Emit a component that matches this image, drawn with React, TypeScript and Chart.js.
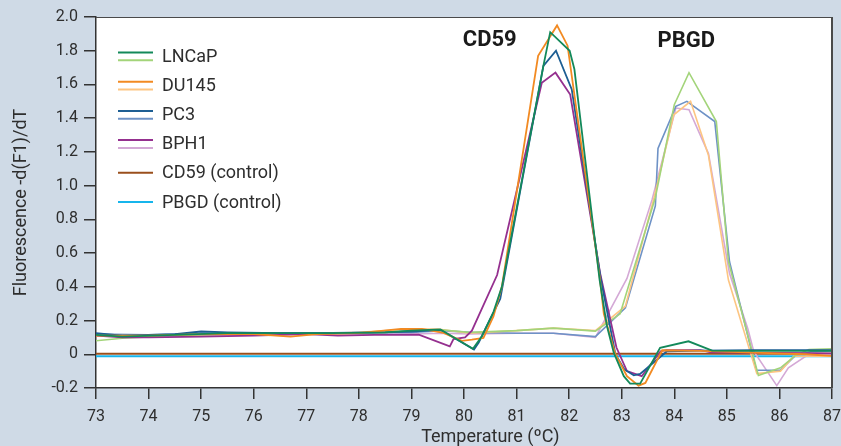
import React, { useEffect, useRef } from 'react';
import { Chart, registerables } from 'chart.js';

Chart.register(...registerables);

// ---------- DATA ----------
const X_MIN = 73;
const X_MAX = 87;
const Y_MIN = -0.2;
const Y_MAX = 2.0;

const LEGEND_LABELS = ['LNCaP', 'DU145', 'PC3', 'BPH1', 'CD59 (control)', 'PBGD (control)'];
const PEAK_LABELS = ['CD59', 'PBGD'];

// LNCaP
const LNCAP_CD59_T = [73, 73.5, 74.5, 75.5, 76.5, 77.5, 78.5, 79.0, 79.55, 80.17, 80.34, 80.56, 80.72, 81.51, 81.64, 82.01, 82.10, 82.58, 82.72, 82.85, 83.04, 83.16, 83.35, 83.73, 84.27, 84.72, 85.5, 86.5, 87];
const LNCAP_CD59_V = [0.115, 0.105, 0.115, 0.125, 0.125, 0.125, 0.13, 0.14, 0.147, 0.032, 0.107, 0.25, 0.40, 1.71, 1.91, 1.80, 1.69, 0.44, 0.166, 0.008, -0.13, -0.174, -0.174, 0.038, 0.077, 0.022, 0.02, 0.02, 0.02];
const LNCAP_PBGD_T = [73, 73.5, 74.5, 75.5, 76.5, 77.5, 78.5, 79.0, 79.55, 80.1, 81.0, 81.7, 82.5, 82.97, 83.64, 84.0, 84.28, 84.8, 85.03, 85.6, 86.02, 86.3, 86.56, 87];
const LNCAP_PBGD_V = [0.08, 0.095, 0.11, 0.12, 0.12, 0.125, 0.13, 0.14, 0.145, 0.13, 0.14, 0.155, 0.137, 0.24, 0.93, 1.48, 1.67, 1.38, 0.55, -0.126, -0.08, -0.008, 0.028, 0.032];

// DU145
const DU145_CD59_T = [73, 74, 75, 76, 76.7, 77.2, 78, 78.8, 79.2, 79.61, 79.96, 80.15, 80.37, 80.56, 80.72, 81.41, 81.77, 81.97, 82.58, 82.66, 82.88, 83.1, 83.32, 83.45, 83.77, 84.5, 85.5, 86.5, 87];
const DU145_CD59_V = [0.11, 0.11, 0.12, 0.12, 0.105, 0.12, 0.125, 0.15, 0.15, 0.127, 0.08, 0.087, 0.097, 0.225, 0.40, 1.77, 1.95, 1.83, 0.46, 0.24, 0.0, -0.13, -0.186, -0.17, 0.024, 0.02, 0.01, 0.0, -0.01];
const DU145_PBGD_T = [73, 74, 75, 76, 77, 78, 79, 79.5, 80.1, 81, 81.7, 82.5, 83.07, 83.6, 83.99, 84.31, 84.65, 85.03, 85.57, 86.02, 86.27, 87];
const DU145_PBGD_V = [0.11, 0.11, 0.115, 0.12, 0.12, 0.13, 0.15, 0.15, 0.125, 0.14, 0.155, 0.14, 0.285, 0.91, 1.42, 1.50, 1.18, 0.44, -0.115, -0.10, -0.012, -0.012];

// PC3
const PC3_CD59_T = [73, 73.5, 74.5, 75, 75.5, 76.5, 77.5, 78.5, 79.0, 79.55, 80.19, 80.28, 80.47, 80.69, 81.51, 81.75, 82.05, 82.6, 82.88, 83.05, 83.23, 83.35, 83.86, 84.5, 85.5, 86.5, 87];
const PC3_CD59_V = [0.125, 0.11, 0.12, 0.135, 0.13, 0.125, 0.125, 0.13, 0.135, 0.145, 0.028, 0.07, 0.19, 0.33, 1.71, 1.80, 1.57, 0.45, 0.0, -0.09, -0.125, -0.117, 0.018, 0.022, 0.025, 0.025, 0.025];
const PC3_PBGD_T = [73, 74, 75, 76, 77, 78, 79, 79.6, 80.1, 81, 81.7, 82.5, 83.07, 83.64, 83.69, 84.03, 84.24, 84.77, 85.05, 85.56, 86.02, 86.3, 86.6, 87];
const PC3_PBGD_V = [0.12, 0.115, 0.125, 0.125, 0.125, 0.13, 0.13, 0.14, 0.13, 0.125, 0.125, 0.105, 0.275, 0.88, 1.22, 1.47, 1.50, 1.38, 0.55, -0.095, -0.095, -0.008, 0.015, 0.02];

// BPH1
const BPH1_CD59_T = [73, 73.5, 74, 75, 76, 77, 77.6, 78.3, 79.14, 79.73, 79.80, 80.02, 80.15, 80.63, 81.48, 81.74, 82.02, 82.59, 82.9, 83.1, 83.38, 83.74, 83.85, 84.5, 84.7, 85.5, 87];
const BPH1_CD59_V = [0.11, 0.10, 0.10, 0.105, 0.11, 0.12, 0.11, 0.115, 0.117, 0.047, 0.09, 0.10, 0.14, 0.47, 1.61, 1.67, 1.54, 0.48, 0.04, -0.10, -0.13, 0.018, 0.025, 0.025, 0.012, 0.01, 0.005];
const BPH1_PBGD_T = [73, 74, 75, 76, 77, 78, 79, 79.6, 80.1, 81, 81.7, 82.5, 83.10, 83.58, 84.03, 84.28, 84.65, 85.05, 85.4, 85.51, 85.95, 86.17, 86.52, 87];
const BPH1_PBGD_V = [0.115, 0.11, 0.11, 0.115, 0.12, 0.12, 0.12, 0.125, 0.12, 0.125, 0.125, 0.10, 0.45, 0.92, 1.46, 1.45, 1.19, 0.48, 0.15, 0.018, -0.186, -0.08, -0.008, 0.0];

// Controls
const CD59_CTRL_T = [73, 87];
const CD59_CTRL_V = [0.003, 0.003];
const PBGD_CTRL_T = [73, 87];
const PBGD_CTRL_V = [-0.012, -0.012];

// ---------- STYLE ----------
const BG = '#cfdae6';
const TEXT = '#2e2e2e';
const AXIS = '#333333';
const C = {
  lncapDark: '#13895a', lncapLight: '#a3d47a',
  du145Dark: '#f28a22', du145Light: '#fdc582',
  pc3Dark: '#1d5e93', pc3Light: '#6e92c6',
  bph1Dark: '#95308f', bph1Light: '#d4a9d6',
  cd59Ctrl: '#9a4f1c', pbgdCtrl: '#16b5ec',
};

const pts = (t: number[], v: number[]) => t.map((x, i) => ({ x, y: v[i] }));

const ds = (data: any[], color: string, width: number) => ({
  data, borderColor: color, borderWidth: width, pointRadius: 0, fill: false, tension: 0,
});

const chromePlugin = {
  id: 'chrome',
  beforeDraw(chart: any) {
    const { ctx, chartArea: ca, width, height } = chart;
    ctx.save();
    ctx.fillStyle = BG;
    ctx.fillRect(0, 0, width, height);
    ctx.fillStyle = '#ffffff';
    ctx.fillRect(ca.left, ca.top, ca.right - ca.left, ca.bottom - ca.top);
    ctx.restore();
  },
  afterDraw(chart: any) {
    const { ctx, chartArea: ca, scales } = chart;
    ctx.save();
    // top & right frame
    ctx.strokeStyle = '#4a4a4a';
    ctx.lineWidth = 1;
    ctx.beginPath();
    ctx.moveTo(ca.left, ca.top + 0.5);
    ctx.lineTo(ca.right, ca.top + 0.5);
    ctx.stroke();
    ctx.lineWidth = 2;
    ctx.beginPath();
    ctx.moveTo(ca.right, ca.top);
    ctx.lineTo(ca.right, ca.bottom);
    ctx.stroke();

    // legend
    const lx0 = ca.left + 22;
    const lx1 = ca.left + 57;
    const tx = ca.left + 66;
    const pairs: [string, string | null][] = [
      [C.lncapDark, C.lncapLight],
      [C.du145Dark, C.du145Light],
      [C.pc3Dark, C.pc3Light],
      [C.bph1Dark, C.bph1Light],
      [C.cd59Ctrl, null],
      [C.pbgdCtrl, null],
    ];
    ctx.font = '18px Roboto';
    ctx.textBaseline = 'middle';
    ctx.textAlign = 'left';
    LEGEND_LABELS.forEach((label, i) => {
      const cy = ca.top + 40 + i * 29.2;
      const [dark, light] = pairs[i];
      ctx.lineWidth = 2;
      if (light) {
        ctx.strokeStyle = dark;
        ctx.beginPath(); ctx.moveTo(lx0, cy - 4.5); ctx.lineTo(lx1, cy - 4.5); ctx.stroke();
        ctx.strokeStyle = light;
        ctx.beginPath(); ctx.moveTo(lx0, cy + 3.3); ctx.lineTo(lx1, cy + 3.3); ctx.stroke();
      } else {
        ctx.strokeStyle = dark;
        ctx.beginPath(); ctx.moveTo(lx0, cy - 1); ctx.lineTo(lx1, cy - 1); ctx.stroke();
      }
      ctx.fillStyle = TEXT;
      ctx.fillText(label, tx, cy);
    });

    // peak labels
    const xs = scales.x, ys = scales.y;
    ctx.font = 'bold 22px Roboto';
    ctx.textAlign = 'center';
    ctx.fillStyle = '#1a1a1a';
    ctx.fillText(PEAK_LABELS[0], xs.getPixelForValue(80.49), ys.getPixelForValue(1.86));
    ctx.fillText(PEAK_LABELS[1], xs.getPixelForValue(84.23), ys.getPixelForValue(1.852));

    // axis titles
    ctx.font = '18px Roboto';
    ctx.fillStyle = TEXT;
    ctx.textAlign = 'center';
    ctx.fillText('Temperature (ºC)', xs.getPixelForValue(80.5), 437);
    ctx.translate(21, (ca.top + ca.bottom) / 2);
    ctx.rotate(-Math.PI / 2);
    ctx.fillText('Fluorescence -d(F1)/dT', 0, 0);
    ctx.restore();
  },
};

export default function App() {
  const ref = useRef<HTMLCanvasElement | null>(null);

  useEffect(() => {
    document.body.style.margin = '0';
    if (!ref.current) return;
    const chart = new Chart(ref.current, {
      type: 'line',
      data: {
        datasets: [
          ds(pts(LNCAP_CD59_T, LNCAP_CD59_V), C.lncapDark, 1.8),
          ds(pts(DU145_CD59_T, DU145_CD59_V), C.du145Dark, 1.8),
          ds(pts(PC3_CD59_T, PC3_CD59_V), C.pc3Dark, 1.8),
          ds(pts(BPH1_CD59_T, BPH1_CD59_V), C.bph1Dark, 1.8),
          ds(pts(LNCAP_PBGD_T, LNCAP_PBGD_V), C.lncapLight, 1.6),
          ds(pts(DU145_PBGD_T, DU145_PBGD_V), C.du145Light, 1.6),
          ds(pts(PC3_PBGD_T, PC3_PBGD_V), C.pc3Light, 1.6),
          ds(pts(BPH1_PBGD_T, BPH1_PBGD_V), C.bph1Light, 1.6),
          ds(pts(CD59_CTRL_T, CD59_CTRL_V), C.cd59Ctrl, 2),
          ds(pts(PBGD_CTRL_T, PBGD_CTRL_V), C.pbgdCtrl, 2),
        ],
      },
      options: {
        responsive: false,
        animation: false,
        layout: { padding: { left: 0, right: 9, top: 17, bottom: 0 } },
        plugins: { legend: { display: false }, tooltip: { enabled: false } },
        scales: {
          x: {
            type: 'linear',
            min: X_MIN,
            max: X_MAX,
            ticks: { stepSize: 1, color: TEXT, font: { family: 'Roboto', size: 16 }, padding: 8, maxRotation: 0, autoSkip: false },
            grid: { drawOnChartArea: false, drawTicks: true, tickLength: 11, color: AXIS, lineWidth: 1.5 },
            border: { display: true, color: AXIS, width: 1.5 },
            afterFit: (s: any) => { s.height = 58; s.paddingLeft = 0; s.paddingRight = 0; },
          },
          y: {
            type: 'linear',
            min: Y_MIN,
            max: Y_MAX,
            ticks: {
              stepSize: 0.2,
              color: TEXT,
              font: { family: 'Roboto', size: 16 },
              padding: 6,
              callback: (v: any) => (Math.abs(Number(v)) < 1e-9 ? '0' : Number(v).toFixed(1)),
            },
            grid: { drawOnChartArea: false, drawTicks: true, tickLength: 12, color: AXIS, lineWidth: 1.5 },
            border: { display: true, color: AXIS, width: 1.5 },
            afterFit: (s: any) => { s.width = 96; s.paddingTop = 0; s.paddingBottom = 0; },
          },
        },
      },
      plugins: [chromePlugin],
    } as any);
    return () => chart.destroy();
  }, []);

  return (
    <div style={{ width: 841, height: 446 }}>
      <canvas ref={ref} width={841} height={446} style={{ display: 'block' }} />
    </div>
  );
}
